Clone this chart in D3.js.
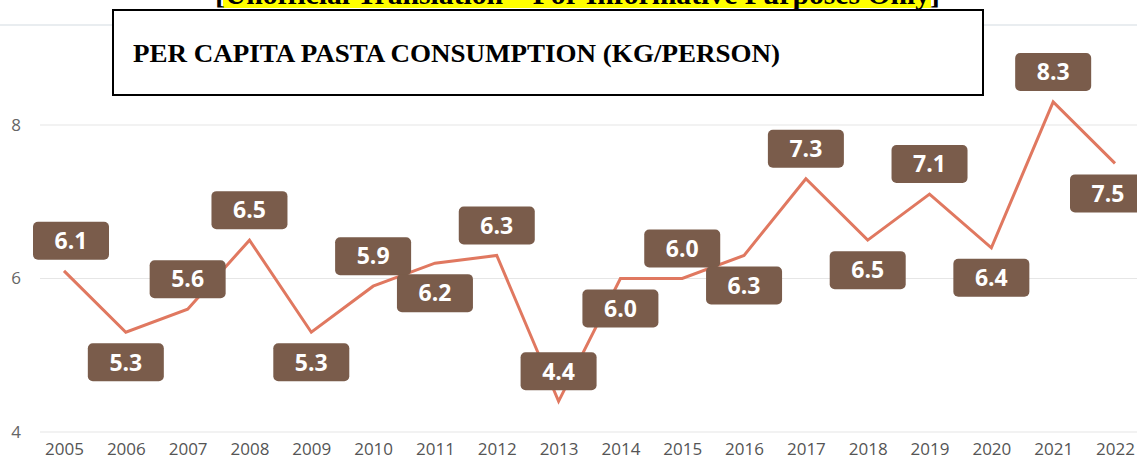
<!DOCTYPE html>
<html>
<head>
<meta charset="utf-8">
<script src="https://cdn.jsdelivr.net/npm/d3@7"></script>
<style>
  html, body { margin: 0; padding: 0; background: #fff; overflow: hidden; }
  svg { display: block; }
</style>
</head>
<body>
<div id="chart"></div>
<script>
// data
const years = ['2005','2006','2007','2008','2009','2010','2011','2012','2013',
  '2014','2015','2016','2017','2018','2019','2020','2021','2022'];
const consumption = [6.1, 5.3, 5.6, 6.5, 5.3, 5.9, 6.2, 6.3, 4.4,
  6.0, 6.0, 6.3, 7.3, 6.5, 7.1, 6.4, 8.3, 7.5];
const labelSide = ['above','below','above','above','below','above','below','above','above',
  'below','above','below','above','below','above','below','above','below'];
const yTicks = [4, 6, 8];

const title = 'PER CAPITA PASTA CONSUMPTION (KG/PERSON)';
const banner = 'Unofficial Translation – For Informative Purposes Only';

const width = 1137, height = 461;

const svg = d3.select('#chart').append('svg')
  .attr('width', width)
  .attr('height', height);

const x = d3.scalePoint().domain(years).range([64, 1115]);
const y = d3.scaleLinear().domain([4, 8]).range([432, 125]);

// faint top rule behind the title box
svg.append('line')
  .attr('x1', 0).attr('x2', width)
  .attr('y1', 25).attr('y2', 25)
  .attr('stroke', '#e9edf0').attr('stroke-width', 2);

// gridlines
svg.append('g').selectAll('line')
  .data(yTicks)
  .join('line')
  .attr('x1', 40).attr('x2', width)
  .attr('y1', d => y(d)).attr('y2', d => y(d))
  .attr('stroke', '#e6e6e6').attr('stroke-width', 1.2);

// y axis labels
svg.append('g').selectAll('text')
  .data(yTicks)
  .join('text')
  .attr('x', 16).attr('y', d => y(d))
  .attr('dy', '0.35em')
  .attr('text-anchor', 'middle')
  .attr('font-family', '"Open Sans", sans-serif')
  .attr('font-size', 17)
  .attr('fill', '#666')
  .text(d => d);

// x axis labels
const xAxis = d3.axisBottom(x).tickSize(0).tickPadding(0);
const gx = svg.append('g')
  .attr('transform', 'translate(0,443)')
  .call(xAxis);
gx.select('.domain').remove();
gx.selectAll('text')
  .attr('font-family', '"Open Sans", sans-serif')
  .attr('font-size', 17)
  .attr('fill', '#555')
  .attr('dy', '0.71em');

// line
const line = d3.line()
  .x((d, i) => x(years[i]))
  .y(d => y(d));

svg.append('path')
  .datum(consumption)
  .attr('d', line)
  .attr('fill', 'none')
  .attr('stroke', '#e07860')
  .attr('stroke-width', 3)
  .attr('stroke-linejoin', 'miter');

// data labels
const boxW = 76, boxH = 38, offset = 30;
const labels = svg.append('g').selectAll('g')
  .data(consumption)
  .join('g')
  .attr('transform', (d, i) => {
    const cx = Math.max(71, Math.min(1108, x(years[i])));
    const cy = y(d) + (labelSide[i] === 'above' ? -offset : offset);
    return `translate(${cx},${cy})`;
  });

labels.append('rect')
  .attr('x', -boxW / 2).attr('y', -boxH / 2)
  .attr('width', boxW).attr('height', boxH)
  .attr('rx', 5)
  .attr('fill', '#7a5c4b');

labels.append('text')
  .attr('text-anchor', 'middle')
  .attr('dy', '0.36em')
  .attr('font-family', '"Open Sans", sans-serif')
  .attr('font-weight', 'bold')
  .attr('font-size', 23)
  .attr('fill', '#fff')
  .text(d => d.toFixed(1));

// banner, cut off at the top edge like the source scan
const bannerG = svg.append('g');
const bannerBg = bannerG.append('rect').attr('fill', '#ffff00');
const bannerText = bannerG.append('text')
  .attr('x', 215).attr('y', 4)
  .attr('font-family', '"Liberation Serif", serif')
  .attr('font-weight', 'bold')
  .attr('font-size', 29)
  .attr('fill', '#000')
  .attr('textLength', 725)
  .attr('lengthAdjust', 'spacingAndGlyphs')
  .text('[' + banner + ']');
bannerBg
  .attr('x', 223).attr('y', -20)
  .attr('width', 708).attr('height', 28);

// title box
svg.append('rect')
  .attr('x', 113).attr('y', 10)
  .attr('width', 870).attr('height', 85)
  .attr('fill', '#fff')
  .attr('stroke', '#000')
  .attr('stroke-width', 2);

svg.append('text')
  .attr('x', 133).attr('y', 62)
  .attr('font-family', '"Liberation Serif", serif')
  .attr('font-weight', 'bold')
  .attr('font-size', 26)
  .attr('fill', '#000')
  .attr('textLength', 647)
  .attr('lengthAdjust', 'spacingAndGlyphs')
  .text(title);
</script>
</body>
</html>
